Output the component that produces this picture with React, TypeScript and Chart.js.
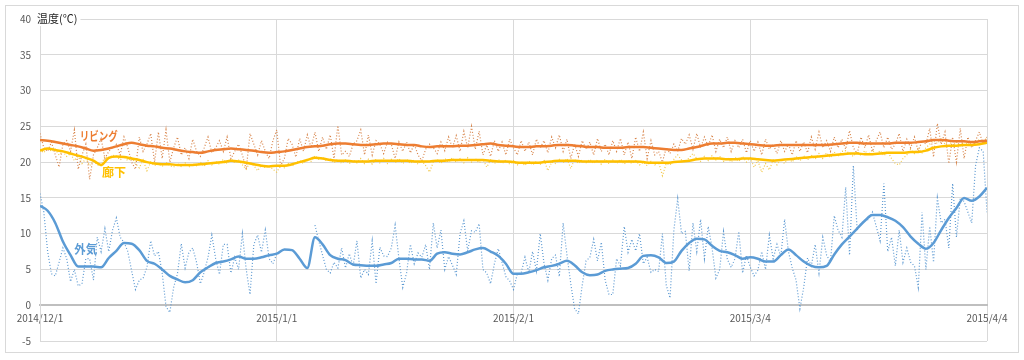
import React, { useEffect, useRef } from 'react';
import { Chart, registerables } from 'chart.js';

Chart.register(...registerables);

// ---- data ----
const dateLabels = ['2014/12/1', '2015/1/1', '2015/2/1', '2015/3/4', '2015/4/4'];
const seriesNames = ['リビング', '廊下', '外気'];
const RAW_PER_DAY = 2;

// daily moving averages (day 0 = 2014/12/1)
const livingAvg = [
  23.1, 23.0, 22.8, 22.6, 22.4, 22.2, 21.9, 21.6, 21.7, 21.9,
  22.2, 22.5, 22.7, 22.5, 22.3, 22.2, 22.0, 21.9, 21.7, 21.5,
  21.4, 21.3, 21.5, 21.7, 21.8, 21.9, 21.8, 21.7, 21.6, 21.4,
  21.3, 21.4, 21.5, 21.7, 21.9, 22.1, 22.2, 22.3, 22.5, 22.6,
  22.6, 22.5, 22.4, 22.4, 22.5, 22.6, 22.6, 22.5, 22.4, 22.4,
  22.2, 22.1, 22.2, 22.2, 22.2, 22.3, 22.3, 22.4, 22.5, 22.6,
  22.4, 22.3, 22.2, 22.1, 22.1, 22.2, 22.2, 22.3, 22.4, 22.4,
  22.3, 22.2, 22.1, 22.1, 22.0, 22.0, 22.0, 22.1, 22.1, 22.1,
  22.0, 21.9, 21.8, 21.7, 21.7, 21.9, 22.1, 22.4, 22.6, 22.6,
  22.7, 22.7, 22.6, 22.5, 22.4, 22.3, 22.3, 22.4, 22.4, 22.4,
  22.4, 22.4, 22.4, 22.4, 22.5, 22.6, 22.7, 22.7, 22.6, 22.6,
  22.6, 22.6, 22.7, 22.7, 22.7, 22.8, 22.9, 23.1, 23.1, 23.0,
  22.9, 22.9, 22.8, 22.9, 23.0,
];
const hallAvg = [
  21.6, 21.9, 21.7, 21.5, 21.2, 20.9, 20.6, 20.2, 19.6, 20.6,
  20.8, 20.7, 20.5, 20.3, 20.0, 19.8, 19.7, 19.7, 19.6, 19.6,
  19.6, 19.7, 19.8, 19.9, 20.0, 20.2, 20.1, 19.9, 19.7, 19.5,
  19.4, 19.5, 19.5, 19.7, 20.0, 20.3, 20.6, 20.5, 20.3, 20.2,
  20.2, 20.1, 20.1, 20.1, 20.2, 20.2, 20.2, 20.2, 20.2, 20.1,
  20.1, 20.1, 20.2, 20.2, 20.3, 20.3, 20.3, 20.3, 20.3, 20.2,
  20.1, 20.1, 20.0, 19.9, 19.9, 19.9, 20.0, 20.1, 20.2, 20.2,
  20.2, 20.1, 20.1, 20.1, 20.1, 20.1, 20.1, 20.1, 20.1, 20.0,
  19.9, 19.9, 19.9, 20.0, 20.1, 20.2, 20.4, 20.5, 20.5, 20.5,
  20.4, 20.4, 20.5, 20.5, 20.4, 20.3, 20.2, 20.3, 20.4, 20.5,
  20.6, 20.7, 20.8, 20.9, 21.0, 21.1, 21.2, 21.2, 21.1, 21.1,
  21.2, 21.3, 21.3, 21.3, 21.4, 21.4, 21.6, 22.0, 22.2, 22.3,
  22.3, 22.4, 22.4, 22.5, 22.7,
];
const outsideAvg = [
  13.9, 13.2, 11.5, 8.9, 7.0, 5.4, 5.4, 5.4, 5.3, 6.6,
  7.6, 8.7, 8.6, 7.7, 6.2, 5.8, 5.0, 4.1, 3.6, 3.2,
  3.5, 4.6, 5.3, 5.9, 6.1, 6.4, 6.8, 6.5, 6.5, 6.7,
  7.0, 7.2, 7.8, 7.7, 6.5, 5.2, 9.5, 8.5, 7.0, 6.5,
  6.3, 5.7, 5.6, 5.5, 5.5, 5.7, 5.9, 6.5, 6.5, 6.4,
  6.4, 6.2, 7.2, 7.4, 7.2, 7.1, 7.4, 7.8, 8.0, 7.5,
  6.9, 5.8, 4.4, 4.4, 4.6, 4.9, 5.3, 5.5, 5.8, 6.2,
  5.6, 4.6, 4.2, 4.3, 4.8, 5.0, 5.1, 5.2, 5.8, 6.9,
  7.0, 6.7, 5.9, 6.1, 7.6, 8.7, 9.3, 9.2, 8.3, 7.6,
  7.4, 7.0, 6.5, 6.7, 6.5, 6.1, 6.1, 7.0, 7.8, 7.0,
  6.1, 5.5, 5.3, 5.5, 7.1, 8.5, 9.6, 10.7, 11.8, 12.6,
  12.6, 12.3, 11.8, 10.9, 9.6, 8.6, 7.9, 8.7, 10.5, 12.2,
  13.6, 15.0, 14.6, 15.2, 16.4,
];

// raw readings, two per day
const livingRaw = [
  24.0, 22.0, 21.5, 22.8, 21.0, 19.3, 22.5, 23.0, 21.5, 24.5,
  19.0, 21.0, 22.5, 17.6, 21.0, 22.0, 23.3, 20.5, 21.5, 22.0,
  22.5, 21.0, 23.5, 22.0, 20.0, 19.0, 23.5, 21.5, 22.5, 24.0,
  20.0, 24.2, 20.5, 24.5, 20.0, 22.0, 23.5, 21.0, 22.0, 20.5,
  23.2, 21.5, 20.8, 22.0, 23.5, 21.3, 22.0, 23.0, 21.5, 23.5,
  20.5, 21.5, 22.5, 21.0, 19.0, 24.0, 22.5, 21.0, 23.0, 21.5,
  20.5, 23.0, 24.5, 19.5, 20.5, 23.3, 22.5, 20.7, 23.3, 21.5,
  23.8, 22.0, 24.2, 21.5, 23.5, 21.8, 23.8, 20.5, 25.1, 21.0,
  21.5, 20.8, 22.5, 23.0, 24.5, 21.0, 23.8, 21.0, 23.0, 22.5,
  21.2, 22.8, 22.5, 20.5, 22.8, 21.5, 22.8, 21.3, 22.5, 21.0,
  20.2, 21.8, 22.5, 22.0, 21.2, 22.8, 21.6, 23.5, 22.0, 23.7,
  21.5, 24.3, 22.0, 25.0, 21.8, 24.3, 21.0, 22.4, 20.8, 23.0,
  21.5, 22.8, 21.0, 23.2, 22.0, 21.0, 23.0, 21.5, 22.8, 21.0,
  23.2, 22.0, 23.0, 21.3, 23.5, 22.0, 23.8, 21.5, 23.2, 20.5,
  22.5, 20.8, 23.0, 21.8, 22.8, 21.0, 23.3, 21.5, 22.5, 21.0,
  23.0, 21.5, 23.3, 21.0, 22.8, 20.5, 23.5, 21.5, 24.2, 20.5,
  23.0, 21.0, 21.5, 20.0, 22.0, 21.2, 22.5, 21.5, 23.3, 22.5,
  23.8, 21.8, 24.0, 22.0, 23.5, 22.2, 23.8, 21.5, 23.2, 22.0,
  23.5, 21.5, 23.0, 22.0, 23.2, 21.3, 23.0, 21.5, 22.8, 21.0,
  23.2, 21.8, 22.5, 21.2, 23.0, 21.5, 22.5, 21.0, 23.0, 21.5,
  22.8, 21.3, 23.5, 21.8, 24.2, 22.0, 23.0, 21.5, 23.5, 22.0,
  23.2, 21.8, 24.4, 22.0, 21.2, 23.5, 22.0, 23.8, 21.5, 23.0,
  24.2, 22.0, 23.5, 21.8, 22.5, 24.0, 21.5, 23.2, 22.0, 23.5,
  21.5, 23.0, 22.5, 24.7, 20.7, 25.4, 22.5, 24.2, 19.8, 23.5,
  20.0, 24.7, 20.5, 23.5, 22.0, 23.0, 24.2, 22.5, 23.5,
];
const hallRaw = [
  21.8, 21.3, 22.0, 21.5, 21.8, 21.0, 21.5, 20.8, 21.2, 20.2,
  20.8, 19.8, 20.5, 19.5, 20.2, 19.6, 19.5, 20.8, 20.5, 21.0,
  20.8, 20.3, 20.8, 20.2, 20.6, 19.8, 19.2, 20.3, 18.8, 20.0,
  19.5, 19.8, 19.4, 20.0, 19.5, 19.3, 19.8, 19.4, 19.9, 19.3,
  19.8, 19.5, 20.0, 19.4, 20.2, 19.6, 20.1, 19.7, 20.4, 19.8,
  20.5, 19.9, 20.3, 19.6, 19.0, 20.0, 19.5, 18.8, 19.6, 19.2,
  19.5, 19.0, 18.6, 19.5, 19.2, 19.8, 19.4, 19.9, 20.2, 19.8,
  20.5, 20.1, 20.9, 20.4, 20.7, 20.2, 20.5, 19.9, 20.4, 19.8,
  20.3, 19.8, 20.3, 19.9, 20.5, 19.8, 20.4, 19.7, 20.4, 19.9,
  20.5, 19.8, 20.4, 19.9, 20.5, 19.8, 20.4, 19.8, 20.3, 19.7,
  20.2, 19.5, 18.6, 20.0, 20.4, 19.8, 20.5, 20.0, 20.6, 20.0,
  20.5, 19.9, 20.6, 20.0, 20.5, 19.9, 20.4, 19.3, 20.3, 19.8,
  20.4, 19.8, 20.3, 19.7, 20.2, 19.6, 20.1, 19.5, 20.2, 19.6,
  20.1, 19.7, 20.3, 18.8, 20.0, 19.8, 20.4, 19.9, 20.5, 19.1,
  20.4, 19.8, 20.3, 19.9, 20.4, 19.8, 20.3, 19.7, 20.4, 19.8,
  20.3, 19.8, 20.4, 19.7, 20.3, 19.8, 20.2, 19.6, 20.0, 19.5,
  20.1, 19.6, 20.0, 18.1, 19.8, 19.6, 20.4, 21.0, 20.3, 20.0,
  20.6, 21.2, 20.5, 20.1, 20.8, 20.2, 20.9, 20.3, 20.8, 20.1,
  20.6, 20.0, 20.7, 20.1, 20.8, 20.0, 20.6, 19.3, 20.2, 18.6,
  19.8, 18.9, 20.3, 19.6, 20.4, 19.8, 20.6, 20.0, 20.8, 20.2,
  20.9, 20.3, 21.0, 20.4, 21.2, 20.5, 21.3, 20.6, 21.4, 20.8,
  21.5, 21.6, 21.2, 20.8, 21.5, 20.9, 21.6, 21.0, 21.7, 21.0,
  21.6, 20.9, 21.5, 20.5, 19.8, 19.6, 20.5, 21.0, 21.8, 21.2,
  21.9, 21.3, 22.0, 22.5, 23.0, 22.6, 23.2, 22.5, 23.0, 22.3,
  22.8, 22.2, 22.9, 22.4, 23.0, 22.5, 23.2, 22.6, 23.5,
];
const outsideRaw = [
  15.6, 13.0, 7.5, 4.4, 4.1, 6.0, 8.0, 6.5, 3.3, 5.0,
  2.7, 3.0, 6.5, 6.5, 3.5, 9.5, 7.5, 10.7, 7.5, 10.5,
  12.2, 9.5, 8.8, 7.5, 4.8, 2.2, 3.5, 3.8, 5.3, 9.0,
  6.9, 7.5, 4.5, -0.2, -1.0, 2.5, 4.4, 8.6, 5.2, 7.4,
  8.0, 6.0, 3.0, 4.6, 6.7, 9.8, 6.5, 4.3, 8.5, 8.5,
  4.5, 6.7, 5.0, 10.0, 5.0, 1.5, 8.5, 9.8, 7.4, 10.5,
  6.5, 5.8, 7.2, null, null, null, null, null, null, null,
  null, null, 11.2, 9.0, 7.0, 5.0, 4.5, 6.0, 5.2, 8.0,
  5.2, 7.2, 5.5, 9.0, 3.8, 5.0, 4.3, 9.0, 3.0, 8.1,
  6.9, 6.8, 8.0, 11.2, 6.5, 2.5, 4.5, 8.5, 5.8, 7.3,
  6.7, 8.5, 5.0, 11.5, 8.0, 10.5, 5.0, 6.8, 5.6, 4.3,
  10.0, 11.8, 7.6, 10.4, 10.2, 11.4, 5.0, 4.5, 3.0, 5.8,
  7.9, 6.0, 4.0, 3.4, 2.2, 4.4, 4.5, 6.7, 4.6, 7.5,
  4.8, 10.0, 5.8, 3.5, 6.5, 7.0, 4.0, 11.5, 7.0, 3.0,
  -0.5, -1.2, 2.8, 6.2, 6.7, 9.2, 6.2, 8.8, 3.5, 1.5,
  1.5, 6.5, 5.5, 11.0, 7.4, 9.2, 7.6, 10.0, 5.8, 6.7,
  4.6, 5.0, 4.7, 10.0, 2.8, 1.0, 10.5, 14.9, 10.0, 10.3,
  4.8, 11.5, 7.5, 12.0, 6.5, 11.0, 8.0, 3.8, 5.0, 10.3,
  6.4, 5.3, 6.5, 10.3, 4.5, 7.0, 5.3, 4.1, 4.9, 7.5,
  5.0, 9.8, 6.5, 8.5, 6.8, 12.0, 7.5, 5.2, 3.5, -0.5,
  2.5, 6.6, 5.5, 8.5, 4.5, 9.5, 7.0, 6.0, 12.5, 10.5,
  9.5, 16.5, 7.0, 19.5, 10.5, 11.5, 11.8, 12.0, 13.0, 11.0,
  9.0, 17.0, 7.5, 9.5, 5.5, 10.5, 6.0, 8.0, 6.0, 5.5,
  2.5, 13.0, 5.0, 11.0, 6.0, 15.0, 11.5, 12.0, 8.0, 17.0,
  9.5, 15.0, 14.5, 13.0, 11.5, 19.5, 22.0, 21.5, 13.0,
];

const Y_MIN = -5;
const Y_MAX = 40;
const Y_STEP = 5;
const X_STEP = 31;

// ---- styles ----
const COLORS = ['#ED7D31', '#FFC000', '#5B9BD5'];
const RAW_COLORS = ['#D8854B', '#F2C84A', '#5E9AD2'];
const FONT = '"Noto Sans CJK JP", "Noto Sans", sans-serif';

const toAvgPoints = (arr: number[]) => arr.map((v, i) => ({ x: i, y: v }));
const toRawPoints = (arr: (number | null)[]) => arr.map((v, i) => ({ x: i / RAW_PER_DAY, y: v }));

const annotationPlugin = {
  id: 'annotations',
  afterDatasetsDraw(chart: any) {
    const { ctx, scales } = chart;
    const xs = scales.x;
    const ys = scales.y;
    ctx.save();
    // axis title
    ctx.font = `11px ${FONT}`;
    const title = '温度(℃)';
    const w = ctx.measureText(title).width;
    const tx = xs.left - 3;
    const ty = ys.getPixelForValue(Y_MAX);
    ctx.fillStyle = '#ffffff';
    ctx.fillRect(tx - 1, ty - 7, w + 4, 14);
    ctx.fillStyle = '#262626';
    ctx.textAlign = 'left';
    ctx.textBaseline = 'middle';
    ctx.fillText(title, tx, ty);
    // series labels
    const spots = [
      { day: 7.7, val: 23.6, width: 38 },
      { day: 9.7, val: 18.6, width: 25 },
      { day: 6.0, val: 7.8, width: 23 },
    ];
    ctx.font = `bold 12px ${FONT}`;
    ctx.textAlign = 'center';
    spots.forEach((s, i) => {
      ctx.fillStyle = COLORS[i];
      ctx.fillText(seriesNames[i], xs.getPixelForValue(s.day), ys.getPixelForValue(s.val), s.width);
    });
    ctx.restore();
  },
};

export default function App() {
  const canvasRef = useRef<HTMLCanvasElement | null>(null);

  useEffect(() => {
    if (!canvasRef.current) return;
    const avgs = [livingAvg, hallAvg, outsideAvg];
    const raws = [livingRaw, hallRaw, outsideRaw];
    const datasets: any[] = [];
    avgs.forEach((a, i) => {
      datasets.push({
        label: seriesNames[i] + '(平均)',
        data: toAvgPoints(a),
        borderColor: COLORS[i],
        backgroundColor: COLORS[i],
        borderWidth: 2.5,
        pointRadius: 0,
        cubicInterpolationMode: 'monotone',
      });
    });
    raws.forEach((r, i) => {
      datasets.push({
        label: seriesNames[i],
        data: toRawPoints(r),
        borderColor: RAW_COLORS[i],
        backgroundColor: RAW_COLORS[i],
        borderWidth: 1.2,
        borderDash: [1, 2],
        pointRadius: 0,
        tension: 0,
        spanGaps: false,
      });
    });

    const chart = new Chart(canvasRef.current, {
      type: 'line',
      data: { datasets },
      options: {
        animation: false,
        responsive: false,
        maintainAspectRatio: false,
        layout: { padding: { left: 0, right: 37, top: 19, bottom: 19 } },
        plugins: {
          legend: { display: false },
          tooltip: { enabled: false },
        },
        scales: {
          x: {
            type: 'linear',
            position: { y: 0 } as any,
            min: 0,
            max: X_STEP * (dateLabels.length - 1),
            grid: { color: '#D9D9D9', drawTicks: false, lineWidth: 1 },
            border: { display: true, color: '#BFBFBF', width: 2 },
            ticks: {
              stepSize: X_STEP,
              autoSkip: false,
              maxRotation: 0,
              padding: 7,
              color: '#595959',
              font: { family: FONT, size: 10 },
              callback: (v: any) => {
                const idx = Math.round(Number(v) / X_STEP);
                return dateLabels[idx] ?? '';
              },
            },
          },
          y: {
            type: 'linear',
            min: Y_MIN,
            max: Y_MAX,
            afterFit: (scale: any) => {
              scale.width = 40;
            },
            grid: { color: '#D9D9D9', drawTicks: false, lineWidth: 1 },
            border: { display: true, color: '#D9D9D9' },
            ticks: {
              stepSize: Y_STEP,
              padding: 9,
              color: '#595959',
              font: { family: FONT, size: 10 },
            },
          },
        },
      },
      plugins: [annotationPlugin],
    });
    return () => chart.destroy();
  }, []);

  return (
    <div style={{ position: 'absolute', left: 0, top: 0, width: 1024, height: 360, background: '#fff' }}>
      <div
        style={{
          position: 'absolute',
          left: 5,
          top: 5,
          width: 1012,
          height: 346,
          border: '1px solid #D9D9D9',
        }}
      />
      <canvas
        ref={canvasRef}
        width={1024}
        height={360}
        style={{ position: 'absolute', left: 0, top: 0, width: 1024, height: 360 }}
      />
    </div>
  );
}
